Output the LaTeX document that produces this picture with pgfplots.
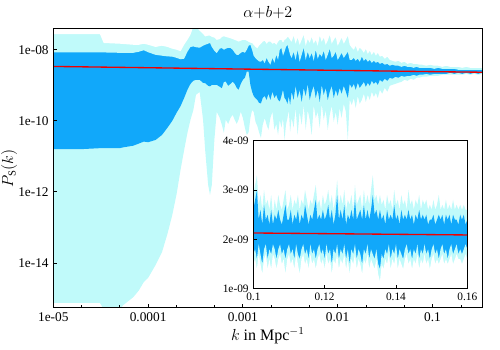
\documentclass[border=0pt]{standalone}
\usepackage{fontspec}
\setmainfont{Liberation Serif}
\usepackage{pgfplots}
\pgfplotsset{compat=1.18}
\usepackage{pgfplotstable}
\definecolor{bandDark}{HTML}{11A8FA}
\definecolor{bandLight}{HTML}{C0FAFA}
\definecolor{fitRed}{HTML}{F00000}

% main panel: k, outer band (lu/ll), inner band (du/dl)
\pgfplotstableread{
k lu du dl ll
1e-5 2.77e-8 8.4e-9 1.6e-11 7.6e-16
2e-5 2.77e-8 8.4e-9 1.6e-11 7.6e-16
3.1e-5 2.77e-8 8.4e-9 1.7e-11 7.6e-16
3.4e-5 1.55e-8 8.4e-9 1.7e-11 5e-16
5e-5 1.48e-8 8.2e-9 1.7e-11 5e-16
5.5e-5 1.45e-8 8.2e-9 1.8e-11 6.6e-16
7e-5 1.38e-8 8.2e-9 2.0e-11 1.1e-15
8e-5 1.38e-8 8.8e-9 2.3e-11 1.7e-15
9e-5 1.48e-8 9.7e-9 2.6e-11 2.9e-15
1e-4 1.38e-8 8.5e-9 2.5e-11 3.8e-15
1.2e-4 1.2e-8 7.2e-9 2.9e-11 8.8e-15
1.4e-4 1.3e-8 6.8e-9 4.0e-11 2.0e-14
1.6e-4 1.2e-8 6.5e-9 6.4e-11 6.6e-14
1.8e-4 1.07e-8 6.4e-9 1.0e-10 2.25e-13
2e-4 1e-8 5.9e-9 1.7e-10 8.8e-13
2.2e-4 9.1e-9 5.4e-9 2.6e-10 4.2e-12
2.4e-4 1.38e-8 5.6e-9 4.4e-10 1.5e-11
2.6e-4 1.9e-8 8.8e-9 7.5e-10 4.6e-11
2.8e-4 2.65e-8 1.2e-8 1.1e-9 1.07e-10
3e-4 4.5e-8 1.24e-8 1.34e-9 2.0e-10
3.2e-4 4.5e-8 1.18e-8 1.43e-9 5.4e-10
3.5e-4 3.43e-8 1.14e-8 1.43e-9 6.5e-10
3.8e-4 2.8e-8 1.3e-8 1.17e-9 1.07e-10
4e-4 2.37e-8 1.38e-8 1.15e-9 1.5e-11
4.3e-4 2.5e-8 1.48e-8 9.7e-10 1.57e-12
4.5e-4 2.5e-8 1.55e-8 9.3e-10 8.2e-13
4.7e-4 2.3e-8 1.2e-8 1.03e-9 1.57e-12
5e-4 2.2e-8 9.4e-9 1.03e-9 2.9e-11
5.3e-4 1.9e-8 8.1e-9 1.03e-9 1.8e-10
5.7e-4 2.0e-8 1.07e-8 9.1e-10 1.2e-10
6e-4 2.3e-8 1.12e-8 8.3e-10 7.7e-11
6.3e-4 2.4e-8 1e-8 1.25e-9 4.6e-11
6.6e-4 2.3e-8 1.07e-8 1.27e-9 1.07e-10
7e-4 2.2e-8 1.14e-8 9.7e-10 8.2e-11
7.4e-4 2.1e-8 1.12e-8 1.1e-9 1.2e-10
7.8e-4 2.0e-8 1e-8 1.27e-9 1.48e-10
8.2e-4 1.9e-8 8.2e-9 1.1e-9 1.07e-10
8.6e-4 1.8e-8 7.2e-9 8.5e-10 8.2e-11
9e-4 1.7e-8 7.2e-9 7.5e-10 1.07e-10
9.5e-4 1.8e-8 8.2e-9 1.1e-9 1.8e-10
1e-3 1.9e-8 8.8e-9 1.43e-9 1.2e-10
1.05e-3 1.9e-8 8.2e-9 1.63e-9 6.4e-11
1.1e-3 1.8e-8 1e-8 2.45e-9 4.0e-11
1.15e-3 1.68e-8 1.3e-8 2.4e-9 4.8e-11
1.2e-3 1.58e-8 1.38e-8 1.03e-9 1.2e-10
1.25e-3 1.55e-8 1e-8 6.6e-10 2.0e-10
1.3e-3 1.38e-8 6.8e-9 5.0e-10 1.8e-10
1.36e-3 1.2e-8 5.8e-9 4.3e-10 9.3e-11
1.42e-3 1.1e-8 5.2e-9 3.9e-10 7.2e-11
1.48e-3 1.3e-8 4.7e-9 3.2e-10 4.8e-11
1.55e-3 1.48e-8 4.6e-9 3.1e-10 3.3e-11
1.62e-3 1.68e-8 5.2e-9 4.4e-10 7.7e-11
1.7e-3 1.8e-8 4.2e-9 5.0e-10 1.2e-10
1.78e-3 1.48e-8 5.9e-9 3.9e-10 7.7e-11
1.86e-3 1.68e-8 4.6e-9 5.8e-10 5.6e-11
1.95e-3 1.7e-8 3.8e-9 3.9e-10 1.2e-10
2.05e-3 1.48e-8 5.9e-9 6.6e-10 1.8e-10
2.15e-3 1.58e-8 4.3e-9 4.4e-10 5.6e-11
2.25e-3 1.38e-8 7.2e-9 5.4e-10 8.2e-11
2.35e-3 1.68e-8 5.2e-9 3.9e-10 4.0e-11
2.45e-3 1.9e-8 1e-8 3.5e-10 1.07e-10
2.55e-3 1.9e-8 1.12e-8 5.0e-10 6.4e-11
2.65e-3 1.58e-8 6.8e-9 7.5e-10 1.2e-10
2.75e-3 1.9e-8 8.8e-9 4.4e-10 2.9e-11
2.85e-3 2.0e-8 1.2e-8 3.9e-10 7.7e-11
2.95e-3 2.3e-8 1.38e-8 3.0e-10 1.2e-10
3.05e-3 2.2e-8 1e-8 5.0e-10 2.0e-10
3.15e-3 1.9e-8 7.2e-9 2.8e-10 4.8e-11
3.27e-3 1.68e-8 5.9e-9 6.6e-10 1.2e-10
3.43e-3 2.5e-8 8.8e-9 3.9e-10 6.4e-11
3.6e-3 1.48e-8 5.2e-9 9.7e-10 2.3e-10
3.78e-3 2.2e-8 1e-8 4.4e-10 4.0e-11
3.97e-3 1.38e-8 4.6e-9 7.5e-10 1.8e-10
4.17e-3 1.9e-8 7.2e-9 3.4e-10 7.7e-11
4.38e-3 2.65e-8 1.14e-8 8.5e-10 2.8e-10
4.6e-3 1.3e-8 5.2e-9 5.0e-10 5.6e-11
4.83e-3 2.0e-8 8.8e-9 1.1e-9 2.0e-10
5.07e-3 1.58e-8 5.9e-9 3.9e-10 1.07e-10
5.32e-3 2.3e-8 8.2e-9 6.6e-10 4.0e-11
5.59e-3 1.48e-8 4.9e-9 9.7e-10 2.8e-10
5.87e-3 1.9e-8 1e-8 4.4e-10 1.2e-10
6.16e-3 1.3e-8 5.6e-9 7.5e-10 1.8e-10
6.47e-3 2.5e-8 7.7e-9 3.4e-10 6.4e-11
6.79e-3 1.68e-8 6.4e-9 1.03e-9 3.0e-10
7.13e-3 2.2e-8 9.4e-9 5.4e-10 1.07e-10
7.48e-3 1.38e-8 5.2e-9 8.5e-10 2.0e-10
7.86e-3 1.8e-8 7.2e-9 3.9e-10 5.6e-11
8.25e-3 2.65e-8 1.07e-8 6.6e-10 1.48e-10
8.66e-3 1.48e-8 5.9e-9 9.7e-10 2.65e-10
9.09e-3 1.9e-8 6.8e-9 4.4e-10 9.4e-11
9.55e-3 2.3e-8 8.8e-9 7.5e-10 1.8e-10
1.0e-2 1.3e-8 5.2e-9 5.0e-10 7.7e-11
1.05e-2 1.68e-8 6.4e-9 8.5e-10 2.3e-10
1.1e-2 2.2e-8 8.2e-9 5.8e-10 1.2e-10
1.16e-2 1.48e-8 5.9e-9 9.7e-10 3.0e-10
1.22e-2 1.9e-8 7.2e-9 6.6e-10 1.8e-10
1.28e-2 2.5e-8 8.8e-9 4.4e-10 2.9e-11
1.34e-2 1.38e-8 5.2e-9 1.1e-9 3.9e-10
1.41e-2 1.14e-8 5.2e-9 8.5e-10 2.8e-10
1.48e-2 1e-8 5.9e-9 1.1e-9 4.4e-10
1.55e-2 1.3e-8 4.9e-9 7.5e-10 2.3e-10
1.63e-2 8.8e-9 5.6e-9 1.18e-9 5.0e-10
1.71e-2 1.14e-8 4.6e-9 8.5e-10 3.0e-10
1.8e-2 1e-8 6.4e-9 1.03e-9 3.9e-10
1.89e-2 8.2e-9 4.9e-9 1.25e-9 5.8e-10
1.98e-2 1.07e-8 5.6e-9 9.1e-10 3.4e-10
2.08e-2 7.7e-9 4.6e-9 1.18e-9 5.4e-10
2.18e-2 9.4e-9 5.2e-9 9.7e-10 3.9e-10
2.29e-2 7.2e-9 4.3e-9 1.34e-9 6.6e-10
2.41e-2 8.8e-9 4.9e-9 1.1e-9 4.75e-10
2.53e-2 6.8e-9 4.3e-9 1.25e-9 6.15e-10
2.65e-2 8.2e-9 4.6e-9 1.03e-9 4.4e-10
2.79e-2 6.4e-9 4.0e-9 1.43e-9 7.5e-10
2.95e-2 6.8e-9 4.3e-9 1.25e-9 5.8e-10
3.14e-2 5.6e-9 3.8e-9 1.53e-9 8.5e-10
3.34e-2 6.4e-9 4.0e-9 1.34e-9 6.6e-10
3.55e-2 5.2e-9 3.55e-9 1.63e-9 9.7e-10
3.78e-2 4.9e-9 3.8e-9 1.53e-9 1.03e-9
4.07e-2 4.6e-9 3.55e-9 1.74e-9 1.1e-9
4.38e-2 4.9e-9 3.55e-9 1.63e-9 1.18e-9
4.71e-2 4.3e-9 3.3e-9 1.85e-9 1.25e-9
5.07e-2 4.6e-9 3.55e-9 1.74e-9 1.43e-9
5.46e-2 4.0e-9 3.3e-9 1.85e-9 1.34e-9
5.88e-2 4.3e-9 3.3e-9 1.85e-9 1.53e-9
6.33e-2 4.0e-9 3.1e-9 1.98e-9 1.43e-9
6.81e-2 4.0e-9 3.3e-9 1.85e-9 1.63e-9
7.25e-2 3.8e-9 3.1e-9 1.98e-9 1.63e-9
7.81e-2 3.8e-9 3.1e-9 1.98e-9 1.74e-9
8.61e-2 3.55e-9 3.1e-9 2.1e-9 1.74e-9
9.49e-2 3.8e-9 3.1e-9 1.98e-9 1.85e-9
0.1046 3.55e-9 2.9e-9 2.1e-9 1.85e-9
0.1153 3.55e-9 3.1e-9 2.1e-9 1.85e-9
0.127 3.3e-9 2.9e-9 2.1e-9 1.98e-9
0.140 3.55e-9 2.9e-9 2.1e-9 1.98e-9
0.154 3.3e-9 2.9e-9 2.25e-9 1.98e-9
0.170 3.3e-9 2.9e-9 2.1e-9 1.98e-9
0.187 3.3e-9 2.73e-9 2.25e-9 1.98e-9
0.206 3.1e-9 2.73e-9 2.1e-9 1.98e-9
0.227 3.3e-9 2.73e-9 2.25e-9 2.1e-9
0.251 3.1e-9 2.73e-9 2.1e-9 1.98e-9
0.276 3.1e-9 2.73e-9 2.25e-9 2.1e-9
0.304 3.1e-9 2.73e-9 2.1e-9 1.98e-9
0.336 3.1e-9 2.73e-9 2.25e-9 2.1e-9
}\maindata

% inset: 0.1 < k < 0.16, linear scales
\pgfplotstableread{
k lu du dl ll
0.1000 2.9e-9 2.6e-9 1.7e-9 1.5e-9
0.1005 3.1e-9 2.8e-9 1.8e-9 1.6e-9
0.1010 3.3e-9 3.0e-9 1.6e-9 1.4e-9
0.1015 2.7e-9 2.4e-9 1.9e-9 1.7e-9
0.1020 2.9e-9 2.6e-9 1.7e-9 1.5e-9
0.1025 2.6e-9 2.3e-9 1.5e-9 1.3e-9
0.1030 3.0e-9 2.7e-9 1.8e-9 1.6e-9
0.1035 2.7e-9 2.4e-9 1.9e-9 1.7e-9
0.1040 2.8e-9 2.5e-9 1.6e-9 1.4e-9
0.1045 2.6e-9 2.3e-9 1.8e-9 1.6e-9
0.1050 2.9e-9 2.6e-9 1.7e-9 1.4e-9
0.1055 2.5e-9 2.3e-9 1.9e-9 1.7e-9
0.1060 2.8e-9 2.5e-9 1.8e-9 1.6e-9
0.1065 2.6e-9 2.4e-9 1.6e-9 1.4e-9
0.1070 2.9e-9 2.6e-9 1.8e-9 1.6e-9
0.1075 2.7e-9 2.4e-9 1.9e-9 1.7e-9
0.1080 2.6e-9 2.3e-9 1.7e-9 1.5e-9
0.1085 2.8e-9 2.5e-9 1.8e-9 1.6e-9
0.1090 3.0e-9 2.7e-9 1.6e-9 1.3e-9
0.1095 2.6e-9 2.4e-9 1.8e-9 1.6e-9
0.1100 2.7e-9 2.4e-9 1.9e-9 1.7e-9
0.1105 2.9e-9 2.6e-9 1.7e-9 1.5e-9
0.1110 2.6e-9 2.3e-9 1.8e-9 1.6e-9
0.1115 2.8e-9 2.5e-9 1.6e-9 1.4e-9
0.1120 2.7e-9 2.4e-9 1.9e-9 1.7e-9
0.1125 2.9e-9 2.6e-9 1.7e-9 1.5e-9
0.1130 2.6e-9 2.3e-9 1.6e-9 1.3e-9
0.1135 2.8e-9 2.5e-9 1.8e-9 1.6e-9
0.1140 2.7e-9 2.4e-9 1.9e-9 1.7e-9
0.1145 3.0e-9 2.7e-9 1.7e-9 1.5e-9
0.1150 2.8e-9 2.5e-9 1.8e-9 1.6e-9
0.1155 2.6e-9 2.3e-9 1.6e-9 1.4e-9
0.1160 2.8e-9 2.5e-9 1.9e-9 1.7e-9
0.1165 2.7e-9 2.4e-9 1.7e-9 1.5e-9
0.1170 2.9e-9 2.6e-9 1.8e-9 1.6e-9
0.1175 3.1e-9 2.8e-9 1.6e-9 1.4e-9
0.1180 2.7e-9 2.4e-9 1.8e-9 1.6e-9
0.1185 2.8e-9 2.5e-9 1.9e-9 1.7e-9
0.1190 2.6e-9 2.4e-9 1.7e-9 1.5e-9
0.1195 2.9e-9 2.6e-9 1.8e-9 1.6e-9
0.1200 2.7e-9 2.4e-9 1.6e-9 1.4e-9
0.1205 2.8e-9 2.5e-9 1.9e-9 1.7e-9
0.1210 3.0e-9 2.7e-9 1.7e-9 1.5e-9
0.1215 2.7e-9 2.4e-9 1.8e-9 1.6e-9
0.1220 2.9e-9 2.6e-9 1.5e-9 1.3e-9
0.1225 2.6e-9 2.3e-9 1.8e-9 1.6e-9
0.1230 2.8e-9 2.5e-9 1.7e-9 1.5e-9
0.1235 3.2e-9 2.9e-9 1.9e-9 1.7e-9
0.1240 2.7e-9 2.4e-9 1.6e-9 1.4e-9
0.1245 2.9e-9 2.6e-9 1.8e-9 1.6e-9
0.1250 2.7e-9 2.4e-9 1.7e-9 1.5e-9
0.1255 3.0e-9 2.7e-9 1.9e-9 1.7e-9
0.1260 2.6e-9 2.3e-9 1.6e-9 1.4e-9
0.1265 2.8e-9 2.5e-9 1.8e-9 1.6e-9
0.1270 2.7e-9 2.4e-9 1.5e-9 1.3e-9
0.1275 2.9e-9 2.6e-9 1.8e-9 1.6e-9
0.1280 2.6e-9 2.4e-9 1.7e-9 1.5e-9
0.1285 3.1e-9 2.8e-9 1.9e-9 1.7e-9
0.1290 2.7e-9 2.4e-9 1.6e-9 1.4e-9
0.1295 2.8e-9 2.5e-9 1.8e-9 1.6e-9
0.1300 2.9e-9 2.6e-9 1.7e-9 1.5e-9
0.1305 2.6e-9 2.4e-9 1.5e-9 1.3e-9
0.1310 3.0e-9 2.7e-9 1.8e-9 1.6e-9
0.1315 2.7e-9 2.4e-9 1.7e-9 1.5e-9
0.1320 2.9e-9 2.6e-9 1.9e-9 1.7e-9
0.1325 2.7e-9 2.4e-9 1.6e-9 1.4e-9
0.1330 3.0e-9 2.6e-9 1.8e-9 1.6e-9
0.1335 3.3e-9 2.9e-9 1.7e-9 1.5e-9
0.1340 2.8e-9 2.5e-9 1.6e-9 1.4e-9
0.1345 2.9e-9 2.6e-9 1.8e-9 1.6e-9
0.1350 2.7e-9 2.4e-9 1.5e-9 1.3e-9
0.1355 2.9e-9 2.6e-9 1.4e-9 1.15e-9
0.1360 2.7e-9 2.4e-9 1.7e-9 1.5e-9
0.1365 2.8e-9 2.5e-9 1.6e-9 1.4e-9
0.1370 2.6e-9 2.3e-9 1.8e-9 1.6e-9
0.1375 2.9e-9 2.6e-9 1.7e-9 1.5e-9
0.1380 2.7e-9 2.4e-9 1.9e-9 1.7e-9
0.1385 2.8e-9 2.5e-9 1.6e-9 1.4e-9
0.1390 2.6e-9 2.4e-9 1.8e-9 1.6e-9
0.1395 3.0e-9 2.7e-9 1.7e-9 1.5e-9
0.1400 2.7e-9 2.4e-9 1.9e-9 1.7e-9
0.1405 2.8e-9 2.5e-9 1.6e-9 1.4e-9
0.1410 2.6e-9 2.3e-9 1.8e-9 1.6e-9
0.1415 2.9e-9 2.6e-9 1.7e-9 1.5e-9
0.1420 2.7e-9 2.4e-9 1.6e-9 1.4e-9
0.1425 2.8e-9 2.5e-9 1.8e-9 1.6e-9
0.1430 2.6e-9 2.4e-9 1.9e-9 1.7e-9
0.1435 3.0e-9 2.6e-9 1.7e-9 1.5e-9
0.1440 2.7e-9 2.4e-9 1.8e-9 1.6e-9
0.1445 2.8e-9 2.5e-9 1.6e-9 1.4e-9
0.1450 2.6e-9 2.3e-9 1.8e-9 1.6e-9
0.1455 2.8e-9 2.5e-9 1.7e-9 1.5e-9
0.1460 2.7e-9 2.4e-9 1.9e-9 1.7e-9
0.1465 2.9e-9 2.6e-9 1.6e-9 1.4e-9
0.1470 2.6e-9 2.4e-9 1.8e-9 1.6e-9
0.1475 2.8e-9 2.5e-9 1.7e-9 1.5e-9
0.1480 2.7e-9 2.4e-9 1.9e-9 1.7e-9
0.1485 2.8e-9 2.5e-9 1.7e-9 1.5e-9
0.1490 2.6e-9 2.3e-9 1.8e-9 1.6e-9
0.1495 2.7e-9 2.4e-9 1.6e-9 1.4e-9
0.1500 2.6e-9 2.4e-9 1.8e-9 1.6e-9
0.1505 2.8e-9 2.5e-9 1.9e-9 1.7e-9
0.1510 2.6e-9 2.3e-9 1.7e-9 1.5e-9
0.1515 2.7e-9 2.4e-9 1.8e-9 1.6e-9
0.1520 2.9e-9 2.5e-9 1.6e-9 1.5e-9
0.1525 2.6e-9 2.4e-9 1.8e-9 1.6e-9
0.1530 2.7e-9 2.5e-9 1.9e-9 1.7e-9
0.1535 2.6e-9 2.3e-9 1.7e-9 1.5e-9
0.1540 2.8e-9 2.5e-9 1.8e-9 1.6e-9
0.1545 2.6e-9 2.4e-9 1.6e-9 1.5e-9
0.1550 2.7e-9 2.5e-9 1.8e-9 1.6e-9
0.1555 2.6e-9 2.3e-9 1.9e-9 1.7e-9
0.1560 2.8e-9 2.5e-9 1.7e-9 1.5e-9
0.1565 2.6e-9 2.4e-9 1.8e-9 1.6e-9
0.1570 2.7e-9 2.4e-9 1.9e-9 1.7e-9
0.1575 2.6e-9 2.3e-9 1.7e-9 1.6e-9
0.1580 2.7e-9 2.5e-9 1.8e-9 1.6e-9
0.1585 2.6e-9 2.4e-9 1.7e-9 1.5e-9
0.1590 2.7e-9 2.5e-9 1.8e-9 1.6e-9
0.1595 2.6e-9 2.3e-9 1.9e-9 1.7e-9
0.1600 2.6e-9 2.4e-9 1.8e-9 1.6e-9
}\insetdata

\begin{document}
\begin{tikzpicture}
\useasboundingbox (-40pt,-31.7pt) rectangle (335pt,230.8pt);

%--- main panel; on log axes \closedcycle closes upwards, so paint from the lowest curve up
\begin{axis}[
  at={(0,0)}, anchor=south west,
  scale only axis,
  width=321.75pt, height=209.25pt,
  xmode=log, ymode=log,
  xmin=1e-5, xmax=0.336,
  ymin=5.5e-16, ymax=3.9e-8,
  xtick={1e-5,1e-4,1e-3,1e-2,1e-1},
  xticklabels={1e-05,0.0001,0.001,0.01,0.1},
  minor xtick={2e-5,5e-5,2e-4,5e-4,2e-3,5e-3,2e-2,5e-2,2e-1},
  ytick={1e-14,1e-12,1e-10,1e-8},
  yticklabels={1e-14,1e-12,1e-10,1e-08},
  yminorticks=false,
  tick pos=left, tick align=inside,
  major tick length=3pt, minor tick length=2pt,
  tick style={black, line width=0.6pt},
  axis line style={line width=1pt},
  ticklabel style={font=\fontsize{10}{12}\selectfont},
  xlabel={$k$ in Mpc$^{-1}$},
  ylabel={$P_{\mathrm{S}}(k)$},
  label style={font=\fontsize{12}{14}\selectfont},
  xlabel style={yshift=2pt},
  ylabel shift=-6pt,
  title={$\alpha{+}b{+}2$},
  title style={font=\fontsize{12}{14}\selectfont, yshift=-2pt},
  axis on top,
]
\addplot[fill=bandLight, draw=none] table[x=k, y=ll] {\maindata} \closedcycle;
\addplot[fill=bandDark, draw=none] table[x=k, y=dl] {\maindata} \closedcycle;
\addplot[fill=bandLight, draw=none] table[x=k, y=du] {\maindata} \closedcycle;
\addplot[fill=white, draw=none] table[x=k, y=lu] {\maindata} \closedcycle;
\addplot[fitRed, line width=1pt] coordinates {
  (1e-5,3.39e-9) (1e-4,3.12e-9) (1e-3,2.86e-9) (1e-2,2.63e-9) (0.1,2.42e-9) (0.336,2.33e-9)};
\end{axis}

%--- inset (linear axes: \closedcycle closes down to 0, so paint from the top curve down)
\begin{axis}[
  at={(150pt,14.25pt)}, anchor=south west,
  scale only axis,
  width=160.5pt, height=111pt,
  xmin=0.1, xmax=0.16,
  ymin=1e-9, ymax=4e-9,
  xtick={0.1,0.12,0.14,0.16},
  xticklabels={0.1,0.12,0.14,0.16},
  ytick={1e-9,2e-9,3e-9,4e-9},
  yticklabels={1e-09,2e-09,3e-09,4e-09},
  scaled x ticks=false, scaled y ticks=false,
  tick pos=left, tick align=inside,
  major tick length=3pt,
  tick style={black, line width=0.6pt},
  axis line style={line width=1pt},
  ticklabel style={font=\fontsize{8.5}{10}\selectfont},
  axis background/.style={fill=white},
  axis on top,
]
\addplot[fill=bandLight, draw=none] table[x=k, y=lu] {\insetdata} \closedcycle;
\addplot[fill=bandDark, draw=none] table[x=k, y=du] {\insetdata} \closedcycle;
\addplot[fill=bandLight, draw=none] table[x=k, y=dl] {\insetdata} \closedcycle;
\addplot[fill=white, draw=none] table[x=k, y=ll] {\insetdata} \closedcycle;
\addplot[fitRed, line width=1pt] coordinates {(0.1,2.13e-9) (0.16,2.09e-9)};
\end{axis}
\end{tikzpicture}
\end{document}
